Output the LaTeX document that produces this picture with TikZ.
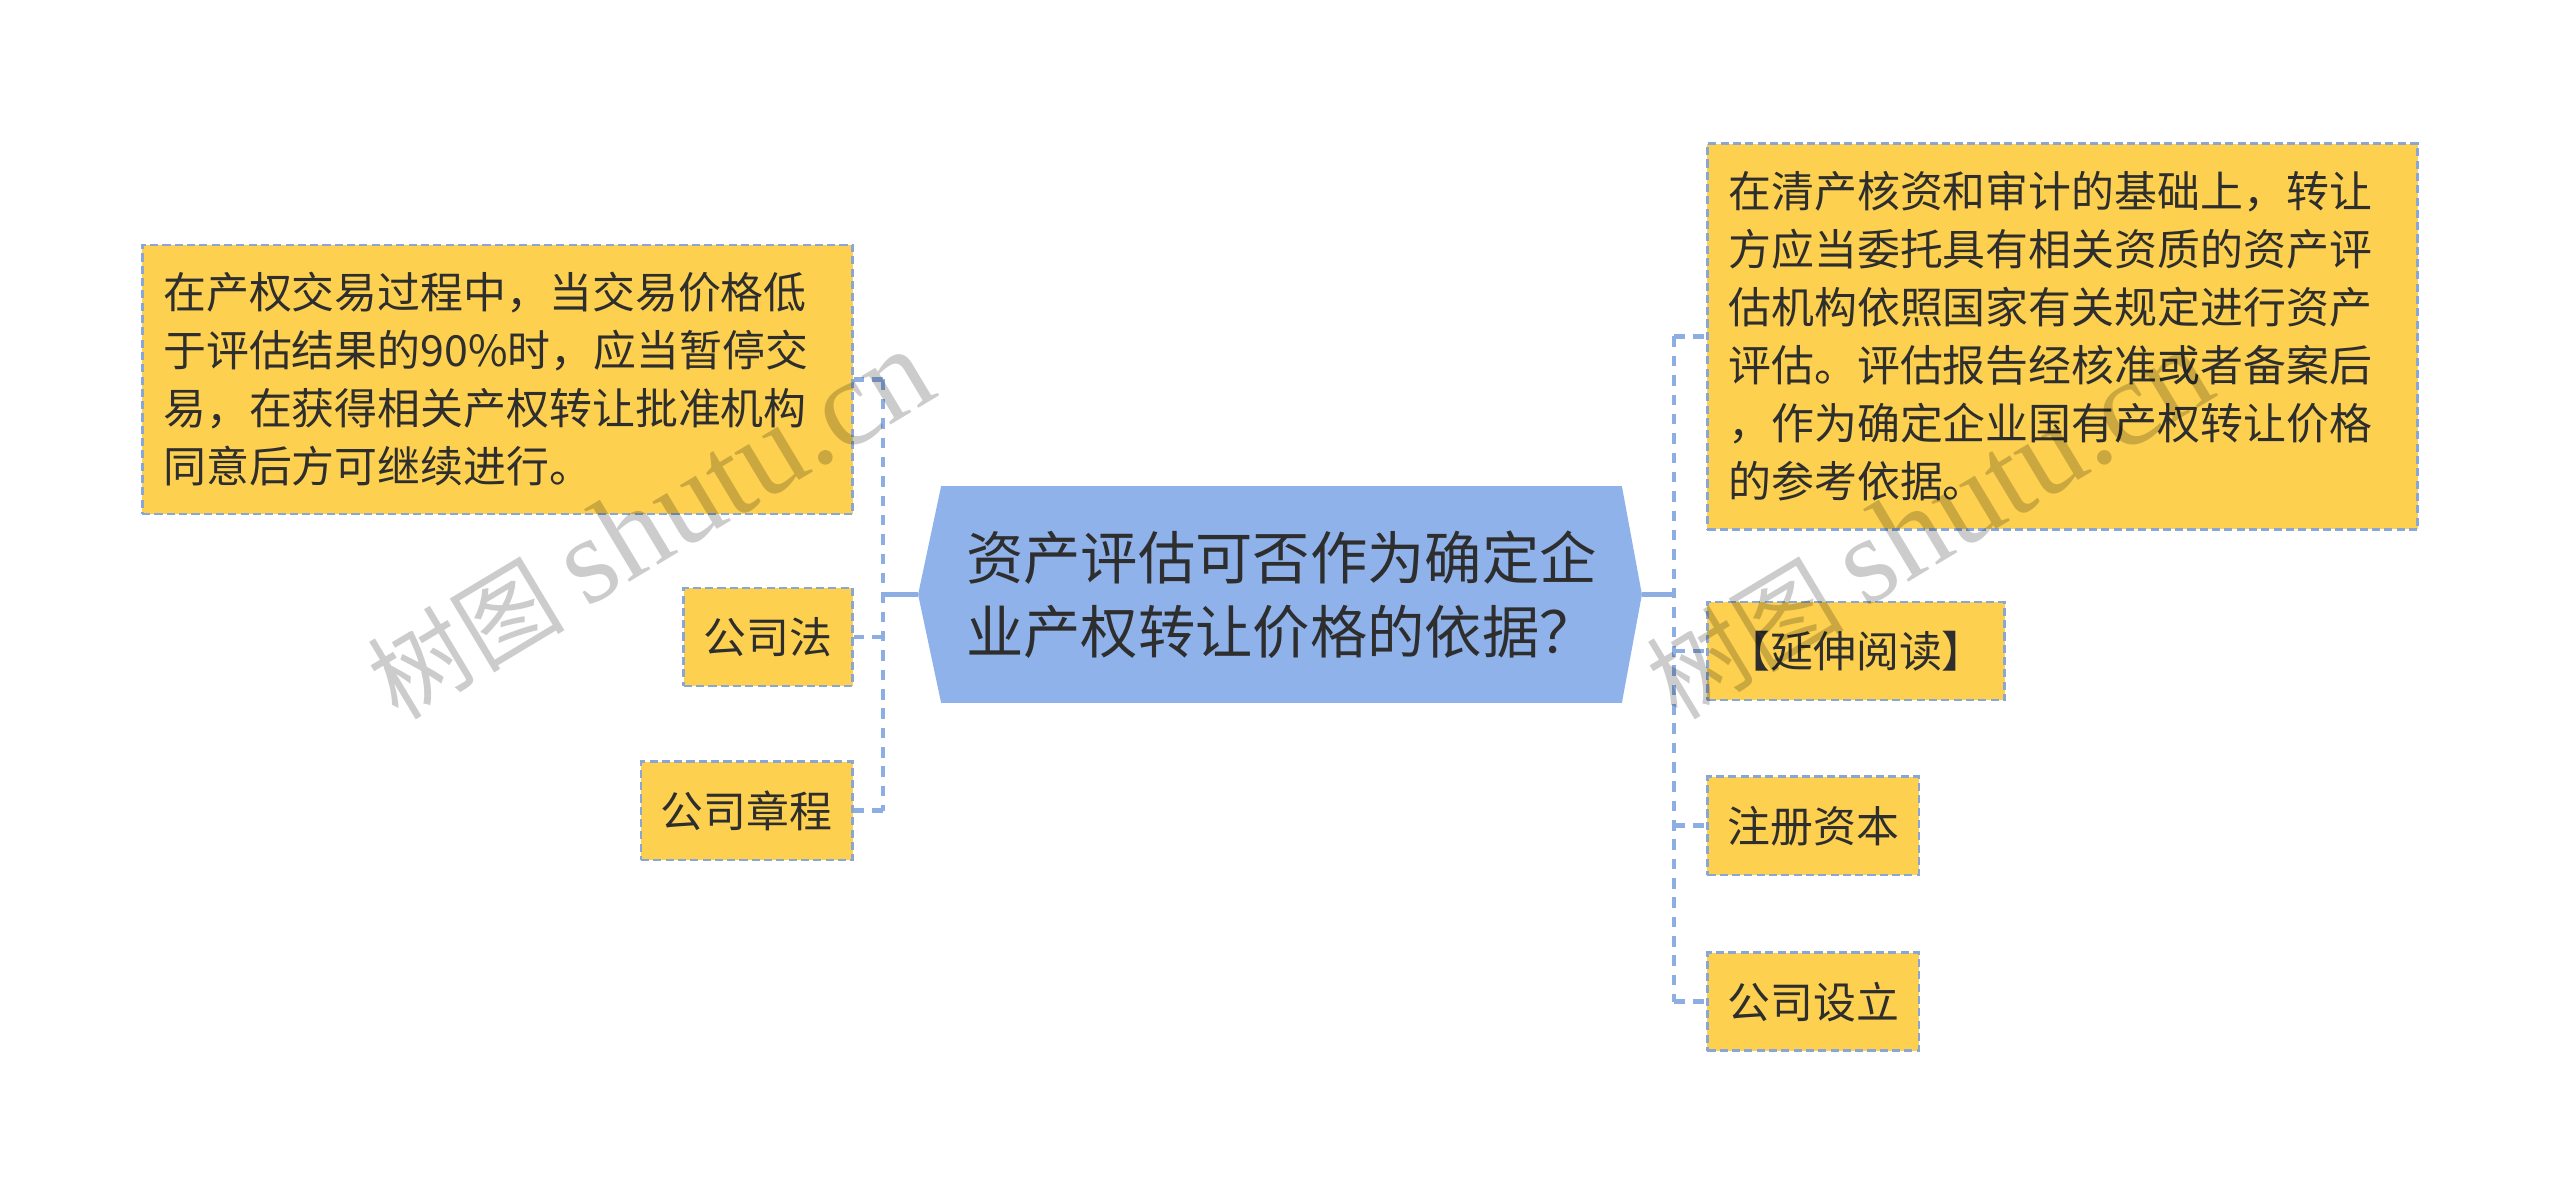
\documentclass[tikz,border=0pt]{standalone}
\usepackage{fontspec}
\newfontfamily\cjk{Noto Sans CJK SC}
\newfontfamily\wmserif{Liberation Serif}
\usepackage{tikz}
\usetikzlibrary{positioning}
\usetikzlibrary{backgrounds}
\definecolor{leafyellow}{HTML}{FDD14F}
\definecolor{rootblue}{HTML}{8FB2EA}
\definecolor{edgeblue}{HTML}{8DAEE3}
\definecolor{borderblue}{HTML}{8AA6D4}
\definecolor{inkgray}{HTML}{2E2E2E}

\begin{document}
\begin{tikzpicture}[x=0.01cm,y=-0.01cm,
leaf/.style={fill=leafyellow,draw=borderblue,line width=0.8pt,dash pattern=on 2.3pt off 1.2pt,
  text=inkgray,font=\cjk\fontsize{12.2}{16.5}\selectfont,inner xsep=0.2cm,inner ysep=0pt,minimum height=0.98cm},
note/.style={leaf,align=left,text width=6.68cm,inner xsep=0.21cm},
root/.style={text=inkgray,font=\cjk\fontsize{16.3}{20.9}\selectfont,align=left,
  minimum width=6.79cm,minimum height=2.15cm,inner sep=0pt},
trunk/.style={draw=edgeblue,line width=1.4pt},
branch/.style={trunk,dash pattern=on 3pt off 2.5pt},
watermark/.style={text=black,opacity=0.2,rotate=31,font=\cjk\fontsize{28}{28}\selectfont}]
\useasboundingbox (0,0) rectangle (2560,1189);

% centre topic
\node[root] (root) at (1281.5,594.5) {资产评估可否作为确定企\\业产权转让价格的依据？};
\begin{scope}[on background layer]
\fill[rootblue] (root.north west) -- (root.north east) -- ([xshift=0.2cm]root.east)
  -- (root.south east) -- (root.south west) -- ([xshift=-0.23cm]root.west) -- cycle;
\end{scope}

% left side
\node[note,anchor=east,minimum height=2.69cm] (lnote) at (854,379.5) {在产权交易过程中，当交易价格低\\于评估结果的90\%时，应当暂停交\\易，在获得相关产权转让批准机构\\同意后方可继续进行。};
\node[leaf,anchor=east] (law) at (854,637) {公司法};
\node[leaf] (charter) [below=0.73cm of law.south east,anchor=north east] {公司章程};

% right side
\node[note,anchor=west,minimum height=3.85cm] (rnote) at (1706,336.5) {在清产核资和审计的基础上，转让\\方应当委托具有相关资质的资产评\\估机构依照国家有关规定进行资产\\评估。评估报告经核准或者备案后\\，作为确定企业国有产权转让价格\\的参考依据。};
\node[leaf,anchor=west] (reading) at (1706,651) {【延伸阅读】};
\node[leaf] (capital) [below=0.74cm of reading.south west,anchor=north west] {注册资本};
\node[leaf] (found) [below=0.75cm of capital.south west,anchor=north west] {公司设立};

\coordinate (lbus) at (883,594.5);
\coordinate (rbus) at (1674,594.5);
\draw[trunk] ([xshift=-0.23cm]root.west) -- (lbus);
\draw[trunk] ([xshift=0.2cm]root.east) -- (rbus);
\draw[branch] (lbus |- lnote.east) -- (lbus |- charter.east);
\draw[branch] (rbus |- rnote.west) -- (rbus |- found.west);
\foreach \n in {lnote,law,charter}
  \draw[branch] (lbus |- \n.east) -- (\n.east);
\foreach \n in {rnote,reading,capital,found}
  \draw[branch] (rbus |- \n.west) -- (\n.west);

% watermarks
\node[watermark] (wmleft) at (650,525) {树图 {\wmserif\fontsize{35}{35}\selectfont shutu.cn}};
\node[watermark] (wmright) at (1929,525) {树图 {\wmserif\fontsize{35}{35}\selectfont shutu.cn}};
\end{tikzpicture}
\end{document}
